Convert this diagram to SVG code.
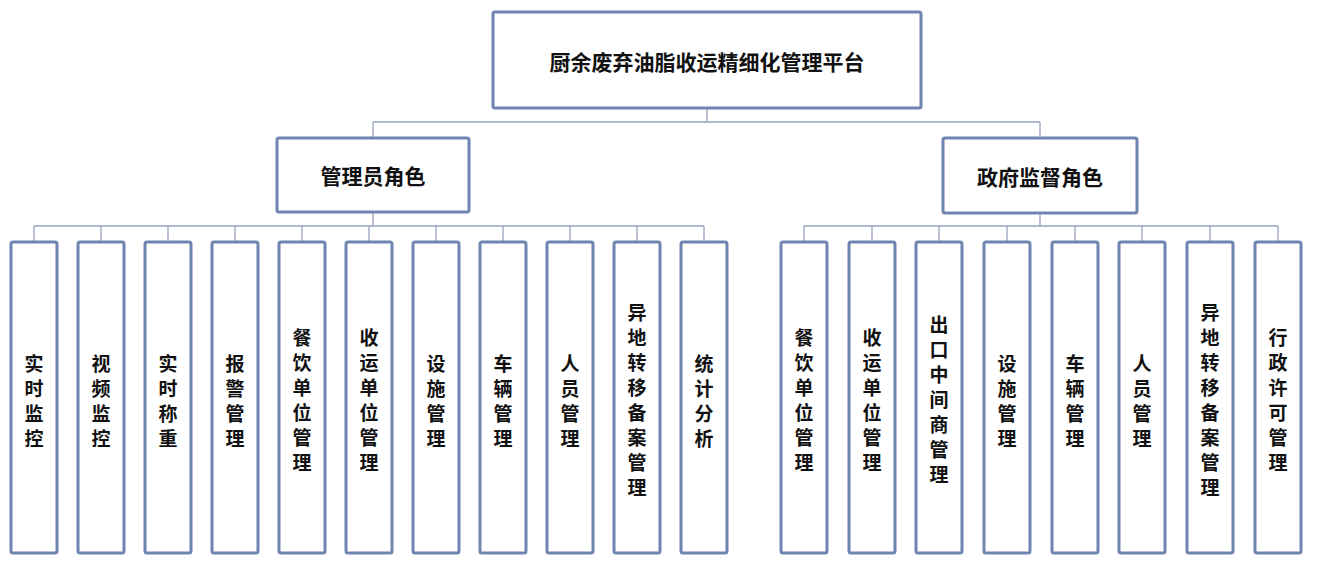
<svg xmlns="http://www.w3.org/2000/svg" width="1318" height="568" viewBox="0 0 1318 568">
<style>
.box{fill:#fff;stroke:#7084b2;stroke-width:3}
.t{font-family:"Noto Sans CJK SC","Noto Sans",sans-serif;font-weight:bold;fill:#111;text-anchor:middle;dominant-baseline:central}
.big{font-size:21px}
.leaf{font-size:19px}
.ln{stroke:#98a3c2;stroke-width:1.3;fill:none}
</style>
<rect width="1318" height="568" fill="#fff"/>
<g id="connectors">
<path class="ln" d="M707 108V122M373 122H1040M373 122V138M1040 122V138"/>
<path class="ln" d="M373 212V226M34 226H704M34 226V242M101 226V242M168 226V242M235 226V242M302 226V242M369 226V242M436 226V242M503 226V242M570 226V242M637 226V242M704 226V242"/>
<path class="ln" d="M1040 213V226M804 226H1278M804 226V242M872 226V242M939 226V242M1007 226V242M1075 226V242M1142 226V242M1210 226V242M1278 226V242"/>
</g>
<g id="root"><rect class="box" x="493" y="12" width="428" height="96" rx="2"/><text class="t big" x="707" y="61">厨余废弃油脂收运精细化管理平台</text></g>
<g id="admin"><rect class="box" x="277" y="138" width="192" height="74" rx="2"/><text class="t big" x="373" y="175">管理员角色</text></g>
<g id="gov"><rect class="box" x="943" y="138" width="194" height="75" rx="2"/><text class="t big" x="1040" y="176">政府监督角色</text></g>

<g id="a1"><rect class="box" x="11" y="242" width="46" height="311" rx="2"/><text class="t leaf"><tspan x="34" y="362">实</tspan><tspan x="34" y="387">时</tspan><tspan x="34" y="412">监</tspan><tspan x="34" y="437">控</tspan></text></g>
<g id="a2"><rect class="box" x="78" y="242" width="46" height="311" rx="2"/><text class="t leaf"><tspan x="101" y="362">视</tspan><tspan x="101" y="387">频</tspan><tspan x="101" y="412">监</tspan><tspan x="101" y="437">控</tspan></text></g>
<g id="a3"><rect class="box" x="145" y="242" width="46" height="311" rx="2"/><text class="t leaf"><tspan x="168" y="362">实</tspan><tspan x="168" y="387">时</tspan><tspan x="168" y="412">称</tspan><tspan x="168" y="437">重</tspan></text></g>
<g id="a4"><rect class="box" x="212" y="242" width="46" height="311" rx="2"/><text class="t leaf"><tspan x="235" y="362">报</tspan><tspan x="235" y="387">警</tspan><tspan x="235" y="412">管</tspan><tspan x="235" y="437">理</tspan></text></g>
<g id="a5"><rect class="box" x="279" y="242" width="46" height="311" rx="2"/><text class="t leaf"><tspan x="302" y="336">餐</tspan><tspan x="302" y="361">饮</tspan><tspan x="302" y="386">单</tspan><tspan x="302" y="411">位</tspan><tspan x="302" y="436">管</tspan><tspan x="302" y="461">理</tspan></text></g>
<g id="a6"><rect class="box" x="346" y="242" width="46" height="311" rx="2"/><text class="t leaf"><tspan x="369" y="336">收</tspan><tspan x="369" y="361">运</tspan><tspan x="369" y="386">单</tspan><tspan x="369" y="411">位</tspan><tspan x="369" y="436">管</tspan><tspan x="369" y="461">理</tspan></text></g>
<g id="a7"><rect class="box" x="413" y="242" width="46" height="311" rx="2"/><text class="t leaf"><tspan x="436" y="362">设</tspan><tspan x="436" y="387">施</tspan><tspan x="436" y="412">管</tspan><tspan x="436" y="437">理</tspan></text></g>
<g id="a8"><rect class="box" x="480" y="242" width="46" height="311" rx="2"/><text class="t leaf"><tspan x="503" y="362">车</tspan><tspan x="503" y="387">辆</tspan><tspan x="503" y="412">管</tspan><tspan x="503" y="437">理</tspan></text></g>
<g id="a9"><rect class="box" x="547" y="242" width="46" height="311" rx="2"/><text class="t leaf"><tspan x="570" y="362">人</tspan><tspan x="570" y="387">员</tspan><tspan x="570" y="412">管</tspan><tspan x="570" y="437">理</tspan></text></g>
<g id="a10"><rect class="box" x="614" y="242" width="46" height="311" rx="2"/><text class="t leaf"><tspan x="637" y="311">异</tspan><tspan x="637" y="336">地</tspan><tspan x="637" y="361">转</tspan><tspan x="637" y="386">移</tspan><tspan x="637" y="411">备</tspan><tspan x="637" y="436">案</tspan><tspan x="637" y="461">管</tspan><tspan x="637" y="486">理</tspan></text></g>
<g id="a11"><rect class="box" x="681" y="242" width="46" height="311" rx="2"/><text class="t leaf"><tspan x="704" y="362">统</tspan><tspan x="704" y="387">计</tspan><tspan x="704" y="412">分</tspan><tspan x="704" y="437">析</tspan></text></g>

<g id="g1"><rect class="box" x="781" y="242" width="46" height="311" rx="2"/><text class="t leaf"><tspan x="804" y="336">餐</tspan><tspan x="804" y="361">饮</tspan><tspan x="804" y="386">单</tspan><tspan x="804" y="411">位</tspan><tspan x="804" y="436">管</tspan><tspan x="804" y="461">理</tspan></text></g>
<g id="g2"><rect class="box" x="849" y="242" width="46" height="311" rx="2"/><text class="t leaf"><tspan x="872" y="336">收</tspan><tspan x="872" y="361">运</tspan><tspan x="872" y="386">单</tspan><tspan x="872" y="411">位</tspan><tspan x="872" y="436">管</tspan><tspan x="872" y="461">理</tspan></text></g>
<g id="g3"><rect class="box" x="916" y="242" width="46" height="311" rx="2"/><text class="t leaf"><tspan x="939" y="323">出</tspan><tspan x="939" y="348">口</tspan><tspan x="939" y="373">中</tspan><tspan x="939" y="398">间</tspan><tspan x="939" y="423">商</tspan><tspan x="939" y="448">管</tspan><tspan x="939" y="473">理</tspan></text></g>
<g id="g4"><rect class="box" x="984" y="242" width="46" height="311" rx="2"/><text class="t leaf"><tspan x="1007" y="362">设</tspan><tspan x="1007" y="387">施</tspan><tspan x="1007" y="412">管</tspan><tspan x="1007" y="437">理</tspan></text></g>
<g id="g5"><rect class="box" x="1052" y="242" width="46" height="311" rx="2"/><text class="t leaf"><tspan x="1075" y="362">车</tspan><tspan x="1075" y="387">辆</tspan><tspan x="1075" y="412">管</tspan><tspan x="1075" y="437">理</tspan></text></g>
<g id="g6"><rect class="box" x="1119" y="242" width="46" height="311" rx="2"/><text class="t leaf"><tspan x="1142" y="362">人</tspan><tspan x="1142" y="387">员</tspan><tspan x="1142" y="412">管</tspan><tspan x="1142" y="437">理</tspan></text></g>
<g id="g7"><rect class="box" x="1187" y="242" width="46" height="311" rx="2"/><text class="t leaf"><tspan x="1210" y="311">异</tspan><tspan x="1210" y="336">地</tspan><tspan x="1210" y="361">转</tspan><tspan x="1210" y="386">移</tspan><tspan x="1210" y="411">备</tspan><tspan x="1210" y="436">案</tspan><tspan x="1210" y="461">管</tspan><tspan x="1210" y="486">理</tspan></text></g>
<g id="g8"><rect class="box" x="1255" y="242" width="46" height="311" rx="2"/><text class="t leaf"><tspan x="1278" y="336">行</tspan><tspan x="1278" y="361">政</tspan><tspan x="1278" y="386">许</tspan><tspan x="1278" y="411">可</tspan><tspan x="1278" y="436">管</tspan><tspan x="1278" y="461">理</tspan></text></g>
</svg>
